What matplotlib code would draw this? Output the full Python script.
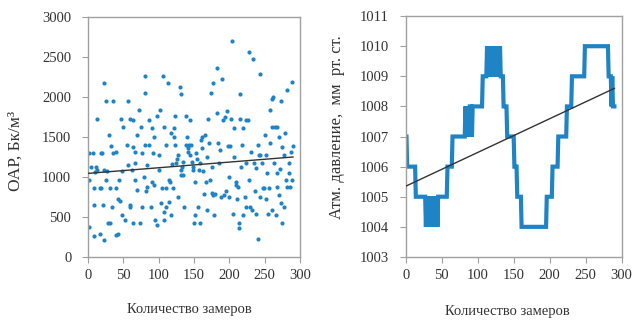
import matplotlib.pyplot as plt
import numpy as np

plt.rcParams['font.family'] = ['Liberation Serif', 'DejaVu Serif']

BLUE = '#1f84c6'
GRAY = '#a0a0a0'

# ОАР по замерам (номер замера, Бк/м3)
oar_n = [1, 1, 2, 4, 7, 8, 8, 8, 12, 13, 13, 17, 17, 18, 20, 19, 21, 22, 22, 22,
         25, 26, 28, 30, 31, 31, 33, 34, 36, 36, 39, 40, 40, 43, 43, 44, 47, 48, 48, 50,
         53, 55, 57, 59, 59, 60, 62, 63, 64, 66, 66, 67, 69, 70, 72, 73, 75, 77, 77, 80,
         81, 81, 82, 83, 84, 86, 87, 89, 90, 91, 92, 93, 93, 95, 97, 98, 100, 102, 103, 105,
         106, 107, 107, 108, 110, 111, 111, 113, 114, 115, 116, 117, 119, 120, 122, 122, 123, 123, 125, 126,
         127, 128, 130, 131, 131, 132, 133, 135, 136, 138, 139, 140, 141, 142, 143, 144, 145, 146, 147, 149,
         150, 151, 152, 153, 154, 155, 157, 158, 159, 160, 161, 163, 164, 166, 167, 168, 169, 170, 171, 172,
         174, 175, 177, 177, 178, 180, 182, 183, 184, 186, 188, 190, 191, 193, 194, 195, 197, 198, 199, 201,
         202, 204, 205, 206, 207, 209, 210, 211, 213, 214, 215, 215, 217, 218, 219, 220, 222, 224, 224, 226,
         228, 228, 229, 230, 232, 233, 235, 236, 237, 238, 240, 241, 243, 244, 244, 246, 247, 249, 251, 252,
         252, 253, 254, 256, 258, 260, 260, 261, 262, 263, 264, 266, 267, 268, 268, 270, 270, 273, 273, 274,
         275, 277, 278, 279, 280, 281, 282, 284, 285, 287, 288, 289, 290,
         10, 27, 45, 56, 64, 79, 101, 118, 134, 148, 162, 176, 187, 200, 212, 223, 242, 257, 271, 286]
oar_val = [370, 960, 1300, 1130, 1300, 860, 650, 260, 1130, 1730, 1090, 860, 290, 1300, 1300, 860, 650, 2170, 210, 1090,
           960, 1950, 420, 1520, 860, 420, 1390, 630, 1950, 1300, 1310, 860, 270, 730, 290, 960, 1730, 1070, 520, 1620,
           460, 1400, 1950, 1730, 650, 620, 1090, 420, 1710, 1170, 960, 1310, 840, 1520, 1840, 420, 1620, 1300, 630, 2260,
           2050, 1400, 820, 1150, 880, 1710, 1400, 630, 940, 1610, 1300, 1500, 900, 460, 1760, 400, 1090, 1840, 670, 860,
           2260, 1620, 560, 460, 860, 1400, 630, 2170, 960, 690, 940, 520, 1160, 860, 1610, 1500, 1400, 1760, 1170, 1230,
           1270, 750, 2130, 2040, 1090, 1020, 1130, 1190, 630, 1760, 1400, 1500, 1310, 1360, 1400, 1710, 1270, 1400, 1190, 1090,
           420, 520, 940, 1300, 1230, 630, 1090, 1170, 420, 1460, 1360, 1070, 790, 1520, 940, 1250, 590, 1730, 1420, 960,
           2050, 1130, 2170, 770, 520, 790, 1800, 2360, 1420, 1180, 750, 2230, 1710, 770, 1750, 820, 1820, 1390, 750, 1390,
           1730, 2700, 540, 1610, 1250, 900, 940, 730, 420, 360, 2040, 1730, 1130, 1400, 1610, 520, 750, 1710, 1170, 1710,
           2560, 960, 630, 1310, 590, 2480, 1170, 820, 540, 1110, 220, 1400, 1270, 2290, 750, 1170, 860, 860, 1520, 1270,
           730, 1050, 540, 860, 1840, 590, 1970, 1620, 2000, 1170, 1620, 520, 880, 1620, 1050, 1500, 770, 670, 1950, 420,
           1380, 1280, 630, 1550, 960, 880, 2090, 1170, 1050, 1310, 960, 2190, 1390,
           1060, 1080, 700, 1150, 1370, 1000, 1270, 1550, 1030, 1120, 1500, 800, 1340, 1000, 870, 620, 1280, 1420, 1100, 870]

# линия тренда ОАР: значение в начале и в конце ряда
oar_trend_x = [0, 290]
oar_trend_y = [1045, 1250]

# атмосферное давление: уровни и число замеров на каждом уровне
p_levels = ([1007, 1006, 1005] + [1004, 1005] * 9
            + [1005, 1006, 1007] + [1008, 1007] * 3
            + [1008, 1007, 1008, 1009] + [1010, 1009] * 10
            + [1009, 1008, 1007, 1006, 1005, 1004, 1005, 1006, 1007, 1008, 1009, 1010,
               1009, 1008, 1009, 1008])
p_counts = ([2, 12, 14] + [1, 1] * 9
            + [12, 7, 18] + [1, 1] * 3
            + [3, 1, 14, 6] + [1, 1] * 10
            + [3, 5, 10, 4, 6, 35, 8, 8, 12, 7, 18, 33,
               4, 1, 1, 3])
p_trend_x = [0, 290]
p_trend_y = [1005.35, 1008.6]

pressure = np.repeat(p_levels, p_counts)
p_n = np.arange(len(pressure))

fig = plt.figure(figsize=(6.33, 3.22), dpi=100)
ax1 = fig.add_axes([0.139, 0.202, 0.335, 0.745])
ax2 = fig.add_axes([0.641, 0.202, 0.341, 0.748])

ax1.scatter(oar_n, oar_val, s=9, color=BLUE, linewidths=0, zorder=2)
ax1.plot(oar_trend_x, oar_trend_y, color='#333333', lw=1.0, zorder=3)
ax1.set_xlim(0, 300)
ax1.set_ylim(0, 3000)
ax1.set_xticks(range(0, 301, 50))
ax1.set_yticks(range(0, 3001, 500))
ax1.set_ylabel('ОАР, Бк/м³', fontsize=12.5)
ax1.set_xlabel('Количество замеров', fontsize=10.5)
ax1.yaxis.set_label_coords(-0.305, 0.44)
ax1.xaxis.set_label_coords(0.48, -0.19)

ax2.plot(p_n, pressure, color=BLUE, lw=3.0, solid_joinstyle='miter', zorder=2)
ax2.plot(p_trend_x, p_trend_y, color='#333333', lw=1.0, zorder=3)
ax2.set_xlim(0, 300)
ax2.set_ylim(1003, 1011)
ax2.set_xticks(range(0, 301, 50))
ax2.set_yticks(range(1003, 1012))
ax2.set_ylabel('Атм. давление,  мм  рт. ст.', fontsize=12)
ax2.set_xlabel('Количество замеров', fontsize=10.5)
ax2.yaxis.set_label_coords(-0.28, 0.54)
ax2.xaxis.set_label_coords(0.47, -0.2)

for ax in (ax1, ax2):
    for sp in ax.spines.values():
        sp.set_color(GRAY)
        sp.set_linewidth(1.0)
    ax.tick_params(direction='out', length=4, color=GRAY, labelsize=10.5,
                   labelcolor='#333333')
    ax.tick_params(axis='y', pad=8)
    ax.tick_params(axis='x', pad=5)
    ax.xaxis.label.set_color('#333333')
    ax.yaxis.label.set_color('#333333')

fig.savefig('out.png', dpi=100)
